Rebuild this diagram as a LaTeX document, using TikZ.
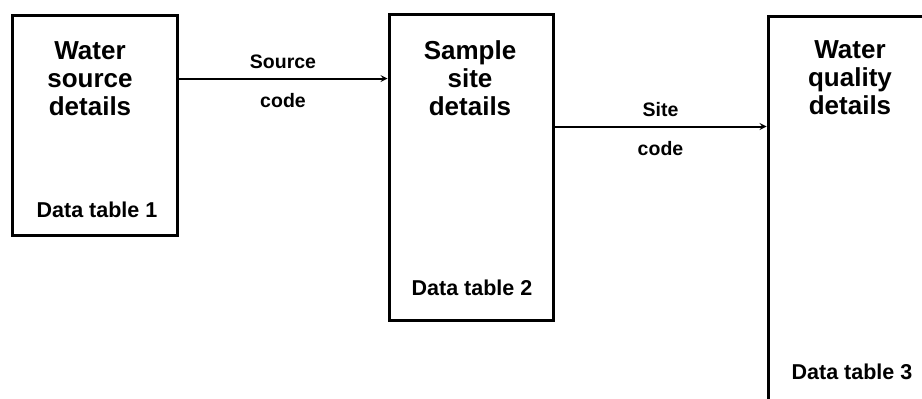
\documentclass[tikz,border=0pt]{standalone}
\usepackage{fontspec}
\setmainfont{Liberation Sans}
\usetikzlibrary{positioning}

\tikzset{
  >={stealth},   % 全局箭头样式
  tablebox/.style={draw, line width=3pt, inner sep=0pt},
  boxtitle/.style={anchor=north, align=center, inner sep=0pt,
    font=\fontsize{26}{28}\selectfont\bfseries},
  tablename/.style={inner sep=0pt, font=\fontsize{21.5}{24}\selectfont\bfseries},
  linklabel/.style={inner sep=0pt, font=\fontsize{19.5}{22}\selectfont\bfseries},
  link/.style={->, line width=2pt}
}

\begin{document}
\begin{tikzpicture}[x=1pt, y=-1pt]

\useasboundingbox (0,0) rectangle (922,399);
\clip (0,0) rectangle (922,399);

%==================== 三张数据表 ====================
\node[tablebox, minimum width=165pt, minimum height=220pt] (source) at (94.5,125) {};
\node[tablebox, minimum width=164pt, minimum height=306pt] (sample) at (471,167) {};
\node[tablebox, minimum width=164pt, minimum height=410pt] (quality) at (850,221) {};

% 表头
\node[boxtitle] at (90,41) {Water\\source\\details};
\node[boxtitle] at (470,40) {Sample\\site\\details};
\node[boxtitle] at (850,40) {Water\\quality\\details};

% 表名
\node[tablename] at (97,210) {Data table 1};
\node[tablename] at (472,288) {Data table 2};
\node[tablename] at (852,372) {Data table 3};

%==================== 关联字段 ====================
\path ([yshift=-65pt]source.north east) coordinate (src out);
\draw[link] (src out) -- (src out -| sample.west)
  node[linklabel, midway, above=9pt] {Source}
  node[linklabel, midway, below=14pt] {code};

\path ([yshift=-114pt]sample.north east) coordinate (site out);
\draw[link] (site out) -- (site out -| quality.west)
  node[linklabel, midway, above=9pt] {Site}
  node[linklabel, midway, below=14pt] {code};

\end{tikzpicture}
\end{document}
